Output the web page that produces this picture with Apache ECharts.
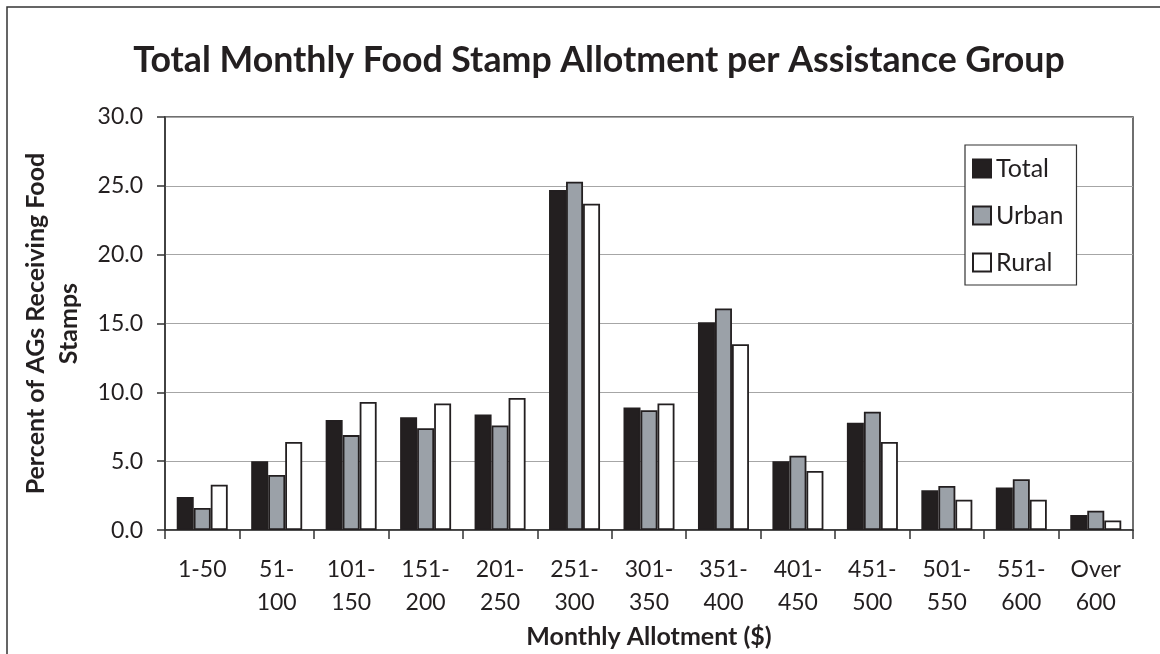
<!DOCTYPE html>
<html>
<head>
<meta charset="utf-8">
<script src="https://cdn.jsdelivr.net/npm/echarts@6/dist/echarts.min.js"></script>
<style>
html,body{margin:0;padding:0;background:#fff;}
#chart{width:1160px;height:654px;}
</style>
</head>
<body>
<div id="chart"></div>
<script>
var categories = ['1-50', '51-\n100', '101-\n150', '151-\n200', '201-\n250', '251-\n300', '301-\n350', '351-\n400', '401-\n450', '451-\n500', '501-\n550', '551-\n600', 'Over\n600'];
var seriesNames = ['Total', 'Urban', 'Rural'];
var totalValues = [2.4, 5.0, 8.0, 8.2, 8.4, 24.7, 8.9, 15.1, 5.0, 7.8, 2.9, 3.1, 1.1];
var urbanValues = [1.6, 4.0, 6.9, 7.4, 7.6, 25.3, 8.7, 16.1, 5.4, 8.6, 3.2, 3.7, 1.4];
var ruralValues = [3.3, 6.4, 9.3, 9.2, 9.6, 23.7, 9.2, 13.5, 4.3, 6.4, 2.2, 2.2, 0.7];
var yTicks = [0, 5, 10, 15, 20, 25, 30];

var FONT = 'Lato';
var INK = '#231f20';
var fills = ['#231f20', '#9ba1a8', '#ffffff'];
var valuesList = [totalValues, urbanValues, ruralValues];

var chart = echarts.init(document.getElementById('chart'), null, {renderer: 'canvas'});
var option = {
  animation: false,
  backgroundColor: '#ffffff',
  graphic: [{
    type: 'rect', z: -1,
    shape: {x: 7, y: 7, width: 1200, height: 700},
    style: {fill: 'none', stroke: '#333333', lineWidth: 1.5}
  }],
  title: {
    text: 'Total Monthly Food Stamp Allotment per Assistance Group',
    left: 594, top: 37, textAlign: 'center',
    textStyle: {fontFamily: FONT, fontWeight: 'bold', fontSize: 35.7, color: INK}
  },
  legend: {
    orient: 'vertical',
    left: 965, top: 145,
    data: seriesNames,
    itemWidth: 18, itemHeight: 18, itemGap: 22,
    padding: [11, 13, 10, 7],
    backgroundColor: '#ffffff',
    borderColor: '#333333', borderWidth: 1.2, borderRadius: 0,
    icon: 'rect',
    textStyle: {fontFamily: FONT, fontSize: 25, color: INK, lineHeight: 18}
  },
  grid: {
    left: 165, right: 27, top: 117, bottom: 119,
    show: true, borderColor: '#404040', borderWidth: 1.5,
    containLabel: false
  },
  xAxis: {
    type: 'category',
    data: categories,
    name: 'Monthly Allotment ($)',
    nameLocation: 'middle',
    nameGap: 87,
    nameTextStyle: {fontFamily: FONT, fontWeight: 'bold', fontSize: 25, color: INK},
    axisLine: {lineStyle: {color: '#333333', width: 1.5}},
    axisTick: {show: true, alignWithLabel: false, length: 9, lineStyle: {color: '#333333', width: 1.5}},
    axisLabel: {fontFamily: FONT, fontSize: 23, color: INK, lineHeight: 33, margin: 23, interval: 0}
  },
  yAxis: {
    type: 'value',
    min: 0, max: 30, interval: 5,
    name: 'Percent of AGs Receiving Food\nStamps',
    nameLocation: 'middle',
    nameGap: 80,
    nameRotate: 90,
    nameTextStyle: {fontFamily: FONT, fontWeight: 'bold', fontSize: 25, color: INK, lineHeight: 33},
    axisLine: {show: true, lineStyle: {color: '#333333', width: 1.5}},
    axisTick: {show: true, inside: false, length: 8, lineStyle: {color: '#333333', width: 1.5}},
    axisLabel: {fontFamily: FONT, fontSize: 23, color: INK, margin: 22,
      formatter: function (v) { return yTicks.indexOf(v) >= 0 ? v.toFixed(1) : ''; }},
    splitLine: {show: true, lineStyle: {color: '#a6a6a6', width: 1.2}}
  },
  series: seriesNames.map(function (name, i) {
    return {
      name: name,
      type: 'bar',
      data: valuesList[i],
      barWidth: 17,
      barGap: '0%',
      itemStyle: {color: fills[i], borderColor: INK, borderWidth: 1.8}
    };
  })
};
chart.setOption(option);
</script>
</body>
</html>
